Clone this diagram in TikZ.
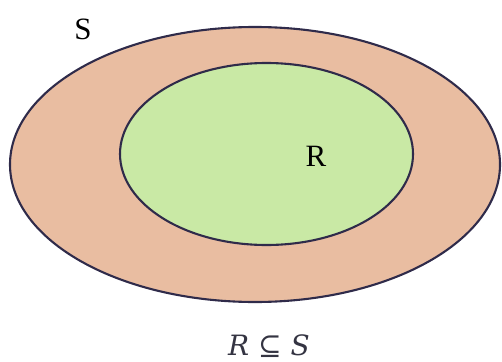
\documentclass[tikz,border=0pt]{standalone}
\usepackage{fontspec}
\setmainfont{Liberation Serif}
\newfontfamily\capfont{DejaVu Serif}
\definecolor{outerfill}{HTML}{E9BDA1}
\definecolor{innerfill}{HTML}{C9E9A5}
\definecolor{rim}{HTML}{2F2B4A}
\definecolor{captext}{HTML}{343442}
\begin{document}
\begin{tikzpicture}[x=1pt,y=-1pt,
  setshape/.style={draw=rim,line width=2.1pt},
  lbl/.style={font=\fontsize{31}{34}\selectfont,text=black,inner sep=0pt}]
\useasboundingbox (0,0) rectangle (502,361);
\draw[setshape,fill=outerfill] (255,164.5) ellipse [x radius=245,y radius=137.5];
\draw[setshape,fill=innerfill] (266.5,154) ellipse [x radius=146.5,y radius=91];
\node[lbl] (s) at (83,29) {S};
\node[lbl] (r) at (316,156) {R};
\node[font=\capfont\fontsize{28}{32}\selectfont,text=captext,inner sep=0pt] (cap) at (269,346) {\textit{R} ⊆ \textit{S}};
\end{tikzpicture}
\end{document}
